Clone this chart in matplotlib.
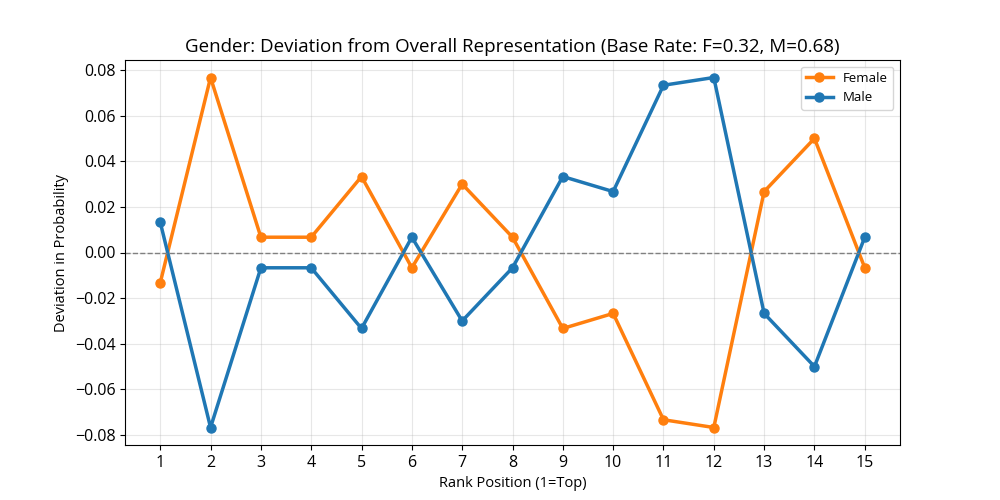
import numpy as np
import matplotlib
matplotlib.use("Agg")
import matplotlib.pyplot as plt

plt.rcParams['font.family'] = ['Open Sans', 'DejaVu Sans']

# === DATA ===
ranks = list(range(1, 16))
female_dev = [-0.0133, 0.0767, 0.0067, 0.0067, 0.0333, -0.0067, 0.0300, 0.0067,
              -0.0333, -0.0267, -0.0733, -0.0767, 0.0267, 0.0500, -0.0067]
male_dev = [0.0133, -0.0767, -0.0067, -0.0067, -0.0333, 0.0067, -0.0300, -0.0067,
            0.0333, 0.0267, 0.0733, 0.0767, -0.0267, -0.0500, 0.0067]
base_f, base_m = 0.32, 0.68

fig, ax = plt.subplots(figsize=(10, 5), dpi=100)
ax.plot(ranks, female_dev, marker="o", color="#ff7f0e", linewidth=2.5, markersize=6.5, label="Female")
ax.plot(ranks, male_dev, marker="o", color="#1f77b4", linewidth=2.5, markersize=6.5, label="Male")
ax.axhline(0, color="gray", linestyle="--", linewidth=1)

ax.set_xticks(ranks)
ax.tick_params(axis="both", labelsize=11.5)
ax.grid(True, alpha=0.3)
ax.set_xlabel("Rank Position (1=Top)", fontsize=10.5)
ax.set_ylabel("Deviation in Probability", fontsize=10.5)
ax.set_title(f"Gender: Deviation from Overall Representation (Base Rate: F={base_f:.2f}, M={base_m:.2f})", fontsize=13.5)
ax.legend(loc="upper right", fontsize=9.5)

fig.savefig("out.png", dpi=100)
